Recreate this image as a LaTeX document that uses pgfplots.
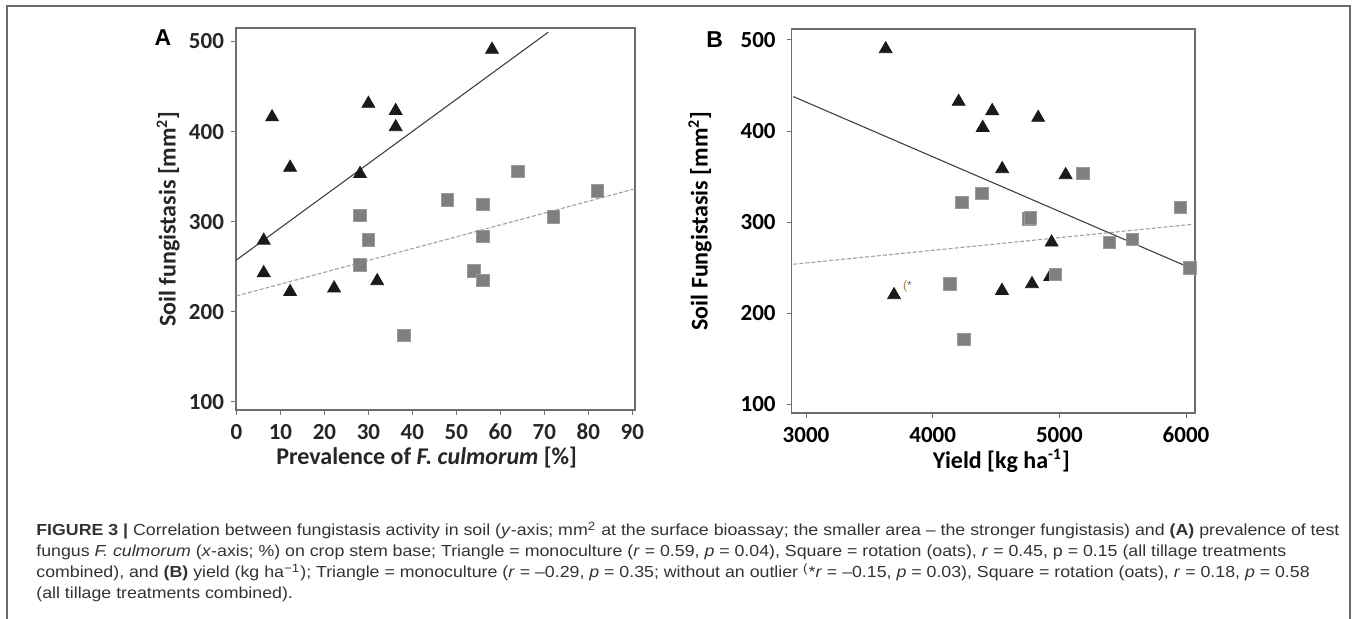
\documentclass[border=0pt]{standalone}
\usepackage{pgfplots}
\pgfplotsset{compat=1.18}
\usepackage{fontspec}
\usepackage{graphicx}
\setmainfont{Carlito}
\newfontfamily\capfont{Liberation Sans}
\newfontfamily\panelfont{Liberation Sans}
\definecolor{tri}{HTML}{1A1A1A}
\definecolor{sq}{HTML}{7F7F7F}
\definecolor{sqedge}{HTML}{9A9A9A}
\definecolor{fitsolid}{HTML}{404040}
\definecolor{fitdash}{HTML}{A0A0A0}
\definecolor{axgray}{HTML}{6E6E6E}
\definecolor{framegray}{HTML}{6A6A6A}
\definecolor{ticktext}{HTML}{262626}
\definecolor{captext}{HTML}{333333}

\pgfplotsset{
  myaxis/.style={
    scale only axis,
    axis line style={axgray, line width=0.7pt},
    tick style={axgray, line width=0.5pt},
    tick align=outside, major tick length=2.5pt,
    xtick pos=lower, ytick pos=left,
    /pgf/number format/assume math mode=true,
    /pgf/number format/1000 sep={},
    scaled x ticks=false, scaled y ticks=false,
    ticklabel style={font=\fontsize{11.5}{13}\selectfont\bfseries},
    xticklabel style={yshift=-1pt},
    label style={font=\fontsize{12}{14}\selectfont\bfseries, inner sep=1pt},
    ytick={100,200,300,400,500},
  },
  trimark/.style={only marks, mark=triangle*, mark size=3.7pt, mark options={fill=tri, draw=tri}},
  sqmark/.style={only marks, mark=square*, mark size=3.1pt, mark options={fill=sq, draw=sqedge, line width=0.3pt}},
}

\newcommand\lineone{\textbf{FIGURE 3 |} Correlation between fungistasis activity in soil (\textit{y}-axis; mm\textsuperscript{2} at the surface bioassay; the smaller area – the stronger fungistasis) and \textbf{(A)} prevalence of test}
\newcommand\linetwo{fungus \textit{F. culmorum} (\textit{x}-axis; \%) on crop stem base; Triangle = monoculture (\textit{r} = 0.59, \textit{p} = 0.04), Square = rotation (oats), \textit{r} = 0.45, p = 0.15 (all tillage treatments}
\newcommand\linethree{combined), and \textbf{(B)} yield (kg ha\textsuperscript{−1}); Triangle = monoculture (\textit{r} = –0.29, \textit{p} = 0.35; without an outlier \textsuperscript{(}*\textit{r} = –0.15, \textit{p} = 0.03), Square = rotation (oats), \textit{r} = 0.18, \textit{p} = 0.58}
\newcommand\linefour{(all tillage treatments combined).}
\newcommand\capsize{\capfont\fontsize{8}{9.6}\selectfont}
\newlength\capw

\begin{document}
\settowidth\capw{\capsize\lineone}%
\pgfmathsetmacro\capsx{651.5/\capw}%
\begin{tikzpicture}
\useasboundingbox (0,0) rectangle (678.5pt,309.5pt);
% frame
\draw[framegray, line width=0.8pt] (3.5pt,0) -- (3.5pt,306.5pt) -- (675pt,306.5pt) -- (675pt,0);

% ---------- Panel A ----------
\begin{axis}[myaxis, name=A,
  at={(118pt,104.5pt)}, anchor=south west,
  width=199.5pt, height=191pt,
  xmin=-0.1, xmax=90.6, ymin=90.8, ymax=515,
  xtick={0,10,...,90},
  xticklabel style={text=ticktext}, yticklabel style={text=ticktext},
  xlabel={Prevalence of \textit{F. culmorum} [\%]},
  ylabel={Soil fungistasis [mm\textsuperscript{2}]},
  xlabel style={at={(axis description cs:0.478,-0.125)}, anchor=center, text=ticktext},
  ylabel style={at={(axis description cs:-0.170,0.5)}, anchor=center, text=ticktext},
]
\addplot[fitsolid, line width=0.55pt] coordinates {(0,257.4) (70.9,510.4)};
\addplot[fitdash, line width=0.55pt, dash pattern=on 2pt off 1pt] coordinates {(0,217.4) (90.2,336)};
\addplot[trimark] coordinates {
 (58.1,491) (8.1,416) (30.0,431) (36.2,423) (36.2,405) (12.2,360)
 (28.1,353) (6.2,279) (6.2,243) (12.2,222) (22.2,226) (32.0,234)};
\addplot[sqmark] coordinates {
 (64,356) (82,334) (48,324) (56,319) (28,307) (72,305.5)
 (30,280) (56,284) (28,252) (54,245.5) (56,235) (38,174)};
\end{axis}

% ---------- Panel B ----------
\begin{axis}[myaxis, name=B,
  at={(395.85pt,103pt)}, anchor=south west,
  width=201.65pt, height=192pt,
  xmin=2887, xmax=6071, ymin=90.6, ymax=512,
  xtick={3000,4000,5000,6000},
  yticklabel style={xshift=-2pt},
  xlabel={Yield [kg ha\textsuperscript{-1}]},
  ylabel={Soil Fungistasis [mm\textsuperscript{2}]},
  xlabel style={at={(axis description cs:0.52,-0.124)}, anchor=center},
  ylabel style={at={(axis description cs:-0.2274,0.5)}, anchor=center},
]
\addplot[fitsolid, line width=0.55pt] coordinates {(2900,437.8) (6031,250)};
\addplot[fitdash, line width=0.55pt, dash pattern=on 2pt off 1pt] coordinates {(2900,253.8) (6057,297.7)};
\addplot[trimark] coordinates {
 (3629,490) (4205,432.3) (4470,422.1) (4395,403.7) (4833,414.7) (4549,358.4)
 (5050,351.8) (4939,277.9) (4928,240.2) (4784,232.2) (4547,224.8) (3695,220.1)};
\addplot[sqmark] coordinates {
 (5184,353.7) (5957,316) (4387,331.7) (4229,321.9) (4760,303.5) (4770,305)
 (5394,277.9) (5575,281.2) (6031,250) (4968,242.8) (4134,232.2) (4247,171.5)};
\node[font=\capfont\fontsize{6}{7}\selectfont, inner sep=0pt] at (axis cs:3800,229) {\textcolor[HTML]{C07830}{(}\textcolor[HTML]{5A6A8A}{*}};
\end{axis}

% panel letters
\node[font=\panelfont\bfseries\fontsize{11.5}{13}\selectfont] at (81.5pt,290.75pt) {A};
\node[font=\panelfont\bfseries\fontsize{11.5}{13}\selectfont] at (357.3pt,289.5pt) {B};

% caption
\begin{scope}[every node/.style={anchor=base west, inner sep=0pt, text=captext}]
\node at (18pt,41.5pt) {\scalebox{\capsx}[1]{\capsize\lineone}};
\node at (18pt,31pt) {\scalebox{\capsx}[1]{\capsize\linetwo}};
\node at (18pt,20.5pt) {\scalebox{\capsx}[1]{\capsize\linethree}};
\node at (18pt,10pt) {\scalebox{\capsx}[1]{\capsize\linefour}};
\end{scope}
\end{tikzpicture}
\end{document}
